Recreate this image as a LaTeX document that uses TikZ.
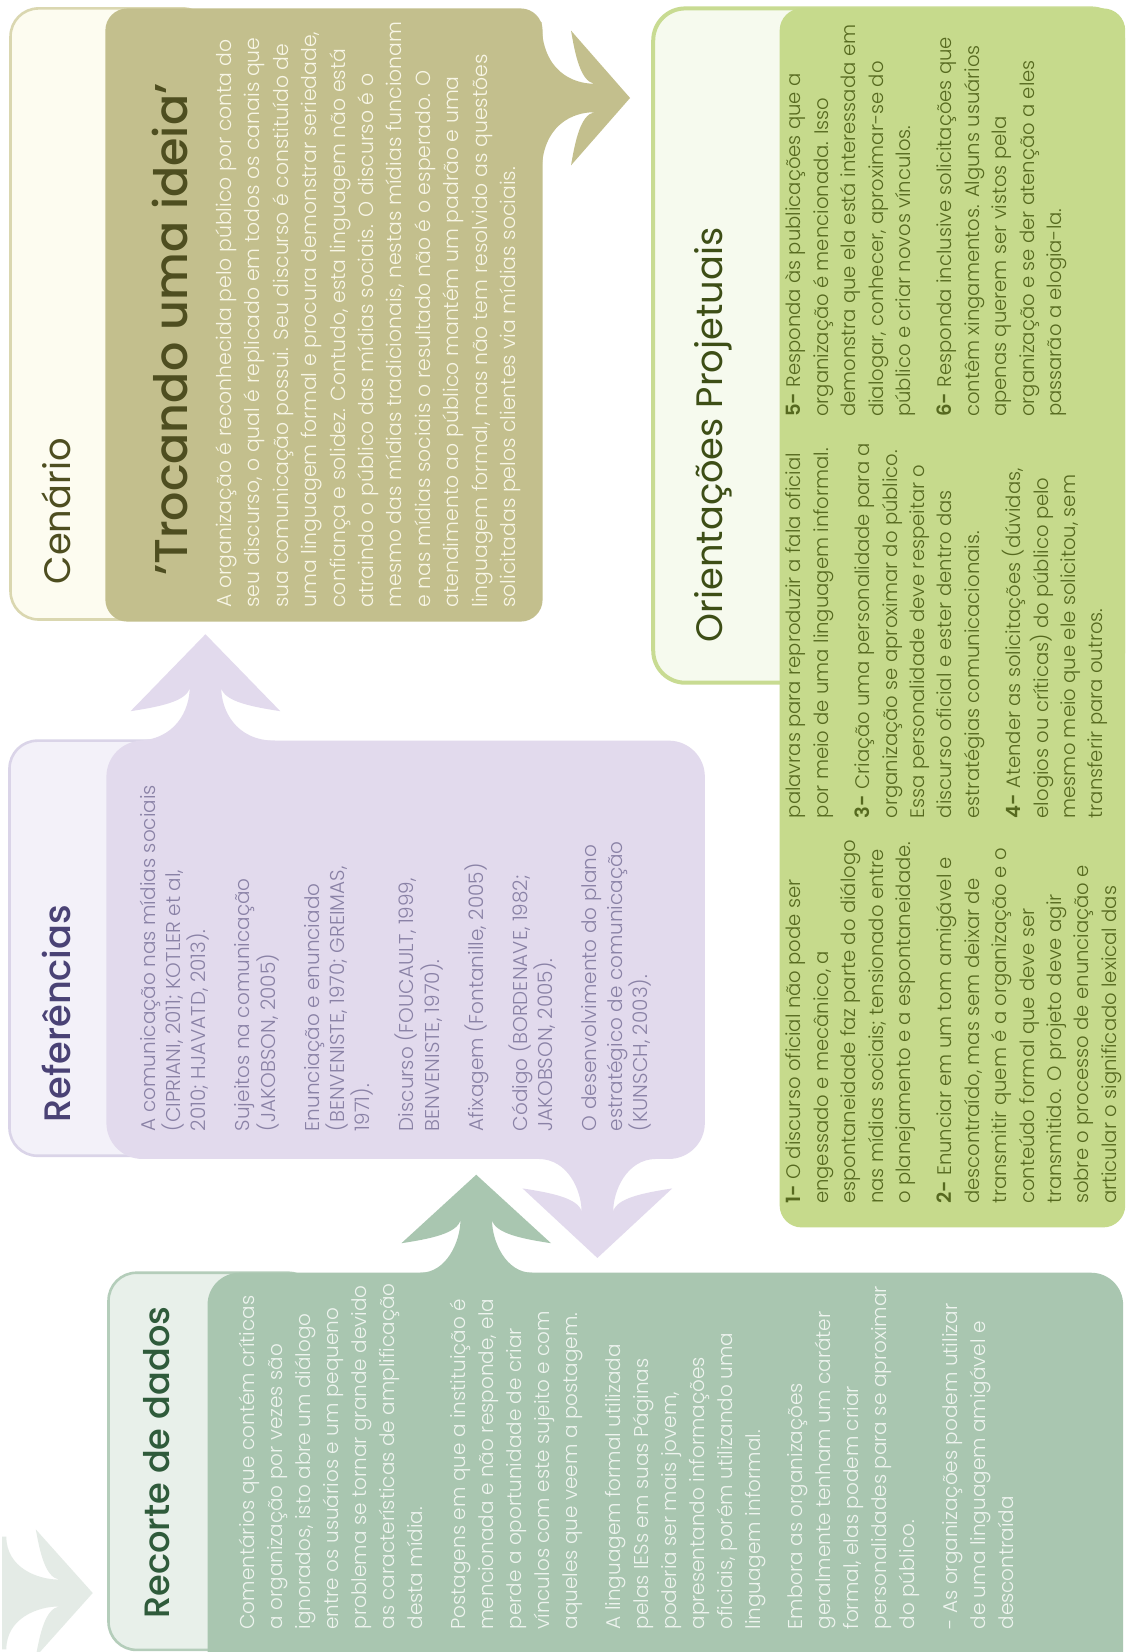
\documentclass[tikz,border=0pt]{standalone}
\usepackage{fontspec}
\setmainfont{Poppins Light}[BoldFont={Poppins SemiBold}]
\newfontfamily\fTitle{Poppins}
\newfontfamily\fTitleMed{Poppins Medium}
\definecolor{cenOuterFill}{HTML}{FDFCF0}
\definecolor{cenOuterDraw}{HTML}{DAD7B0}
\definecolor{cOlive}{HTML}{C3BF8D}
\definecolor{cenTitle}{HTML}{4E4E20}
\definecolor{cenBody}{HTML}{F8F6E6}
\definecolor{refOuterFill}{HTML}{F3F1F9}
\definecolor{refOuterDraw}{HTML}{DAD4E8}
\definecolor{cLav}{HTML}{E2DAED}
\definecolor{refTitle}{HTML}{4A4275}
\definecolor{refBody}{HTML}{8A82A6}
\definecolor{recOuterFill}{HTML}{E8F0EA}
\definecolor{recOuterDraw}{HTML}{B4CDBA}
\definecolor{cGreen}{HTML}{A9C6B0}
\definecolor{recTitle}{HTML}{2F5B3B}
\definecolor{recBody}{HTML}{EEF4EF}
\definecolor{oriOuterFill}{HTML}{F6FAEE}
\definecolor{oriOuterDraw}{HTML}{C8DB92}
\definecolor{cYG}{HTML}{C6DA8C}
\definecolor{oriTitle}{HTML}{3D4E16}
\definecolor{oriBody}{HTML}{56691F}
\definecolor{ghost}{HTML}{E4EBE6}
% #1 x, #2 y, #3 rotation, #4 colour, #5 foot half-width, #6 tip length, #7 lateral scale
\newcommand{\leafarrow}[7]{%
  \fill[#4, shift={(#1,#2)}, rotate=#3, yscale=#7]
    (-4,-#5) -- (0,-#5) .. controls (0,-28) and (30,-15) .. (50,-15)
    .. controls (37,-18) and (32,-45) .. (28,-71) -- (#6,0) -- (28,71)
    .. controls (32,45) and (37,18) .. (50,15)
    .. controls (30,15) and (0,28) .. (0,#5) -- (-4,#5) -- cycle;}
\begin{document}
\begin{tikzpicture}[x=0.5267pt,y=-0.5267pt,
  outerbox/.style={rounded corners=14pt,line width=1.3pt},
  innerbox/.style={rounded corners=11pt},
  bodytext/.style={rotate=90,anchor=north west,align=left,inner sep=0pt},
  titletext/.style={rotate=90,anchor=base west,inner sep=0pt}]
\useasboundingbox (0,0) rectangle (1068,1568);
\clip (0,0) rectangle (1068,1568);
\fill[white] (0,0) rectangle (1068,1568);

% ghost arrow
\leafarrow{6}{1512}{0}{ghost}{63}{82}{0.85}

% Cenario panels
\draw[outerbox, fill=cenOuterFill, draw=cenOuterDraw] (10,8) rectangle (200,588);
\fill[innerbox, cOlive] (100,8) rectangle (515,590);
\leafarrow{514}{93}{0}{cOlive}{80}{84}{0.9}

% Referencias panels
\draw[outerbox, fill=refOuterFill, draw=refOuterDraw] (9,703) rectangle (200,1097);
\fill[rounded corners=18pt, cLav] (101,703) rectangle (669,1100);
\leafarrow{195}{703}{90}{cLav}{66}{101}{1}
\leafarrow{567}{1100}{-90}{cLav}{56}{94}{1}

% Recorte panels
\draw[outerbox, fill=recOuterFill, draw=recOuterDraw] (103,1208) rectangle (300,1566);
\fill[rounded corners=16pt, cGreen] (197,1208) rectangle (1066,1600);
\leafarrow{452}{1208}{90}{cGreen}{53}{93}{1}

% Orientacoes panels
\draw[outerbox, rounded corners=16pt, line width=2pt, fill=oriOuterFill, draw=oriOuterDraw] (620,8) rectangle (1066,648);
\fill[innerbox, cYG] (740,8) rectangle (1068,1165);

% ---- texts ----
\node[titletext, font=\fTitle\fontsize{18.4pt}{22pt}\selectfont, text=cenTitle] (cenT) at (67,555) {Cenário};
\node[titletext, font=\fTitleMed\fontsize{23pt}{27pt}\selectfont, text=cenTitle] (cenH) at (178,547) {’Trocando uma ideia’};
\node[bodytext, font=\fontsize{10.2pt}{14.2pt}\selectfont, text=cenBody] (cenB) at (201,577) {\rule{0pt}{0.95em}A organização é reconhecida pelo público por conta do\\
seu discurso, o qual é replicado em todos os canais que\\
sua comunicação possui. Seu discurso é constituído de\\
uma linguagem formal e procura demonstrar seriedade,\\
confiança e solidez. Contudo, esta linguagem não está\\
atraindo o público das mídias sociais. O discurso é o\\
mesmo das mídias tradicionais, nestas mídias funcionam\\
e nas mídias sociais o resultado não é o esperado. O\\
atendimento ao público mantém um padrão e uma\\
linguagem formal, mas não tem resolvido as questões\\
solicitadas pelos clientes via mídias sociais.};

\node[titletext, font=\fTitleMed\fontsize{18.4pt}{22pt}\selectfont, text=refTitle] (refT) at (67,1066) {Referências};
\node[bodytext, font=\fontsize{10pt}{12.6pt}\selectfont, text=refBody] (refB) at (129,1074) {\rule{0pt}{0.95em}A comunicação nas mídias sociais\\
(CIPRIANI, 2011; KOTLER et al,\\
2010; HJAVATD, 2013).\\[9.5pt]
Sujeitos na comunicação\\
(JAKOBSON, 2005)\\[9.5pt]
Enunciação e enunciado\\
(BENVENISTE, 1970; GREIMAS,\\
1971).\\[9.5pt]
Discurso (FOUCAULT, 1999,\\
BENVENISTE, 1970).\\[9.5pt]
Afixagem (Fontanille, 2005)\\[9.5pt]
Código (BORDENAVE, 1982;\\
JAKOBSON, 2005).\\[9.5pt]
O desenvolvimento do plano\\
estratégico de comunicação\\
(KUNSCH, 2003).};

\node[titletext, font=\fTitleMed\fontsize{17.6pt}{22pt}\selectfont, text=recTitle] (recT) at (161,1537) {Recorte de dados};
\node[bodytext, font=\fontsize{10pt}{14pt}\selectfont, text=recBody] (recB) at (223,1547) {\rule{0pt}{0.95em}Comentários que contém críticas\\
a organização por vezes são\\
ignorados, isto abre um diálogo\\
entre os usuários e um pequeno\\
problema se tornar grande devido\\
as características de amplificação\\
desta mídia.\\[7.4pt]
Postagens em que a instituição é\\
mencionada e não responde, ela\\
perde a oportunidade de criar\\
vínculos com este sujeito e com\\
aqueles que veem a postagem.\\[7.4pt]
A linguagem formal utilizada\\
pelas IESs em suas Páginas\\
poderia ser mais jovem,\\
apresentando informações\\
oficiais, porém utilizando uma\\
linguagem informal.\\[7.4pt]
Embora as organizações\\
geralmente tenham um caráter\\
formal, elas podem criar\\
personalidades para se aproximar\\
do público.\\[7.4pt]
- As organizações podem utilizar\\
de uma linguagem amigável e\\
descontraída};

\node[titletext, font=\fTitle\fontsize{18.4pt}{22pt}\selectfont, text=oriTitle] (oriT) at (686,610) {Orientações Projetuais};
\node[bodytext, font=\fontsize{9.8pt}{13.7pt}\selectfont, text=oriBody] (oriA) at (742,1143) {\rule{0pt}{0.95em}\textbf{1-} O discurso oficial não pode ser\\
engessado e mecânico, a\\
espontaneidade faz parte do diálogo\\
nas mídias sociais; tensionado entre\\
o planejamento e a espontaneidade.\\[7pt]
\textbf{2-} Enunciar em um tom amigável e\\
descontraído, mas sem deixar de\\
transmitir quem é a organização e o\\
conteúdo formal que deve ser\\
transmitido. O projeto deve agir\\
sobre o processo de enunciação e\\
articular o significado lexical das};
\node[bodytext, font=\fontsize{9.8pt}{13.7pt}\selectfont, text=oriBody] (oriB) at (742,777) {\rule{0pt}{0.95em}palavras para reproduzir a fala oficial\\
por meio de uma linguagem informal.\\[7pt]
\textbf{3-} Criação uma personalidade para a\\
organização se aproximar do público.\\
Essa personalidade deve respeitar o\\
discurso oficial e ester dentro das\\
estratégias comunicacionais.\\[7pt]
\textbf{4-} Atender as solicitações (dúvidas,\\
elogios ou críticas) do público pelo\\
mesmo meio que ele solicitou, sem\\
transferir para outros.};
\node[bodytext, font=\fontsize{9.8pt}{13.7pt}\selectfont, text=oriBody] (oriC) at (742,396) {\rule{0pt}{0.95em}\textbf{5-} Responda às publicações que a\\
organização é mencionada. Isso\\
demonstra que ela está interessada em\\
dialogar, conhecer, aproximar-se do\\
público e criar novos vínculos.\\[7pt]
\textbf{6-} Responda inclusive solicitações que\\
contêm xingamentos. Alguns usuários\\
apenas querem ser vistos pela\\
organização e se der atenção a eles\\
passarão a elogia-la.};
\end{tikzpicture}
\end{document}
